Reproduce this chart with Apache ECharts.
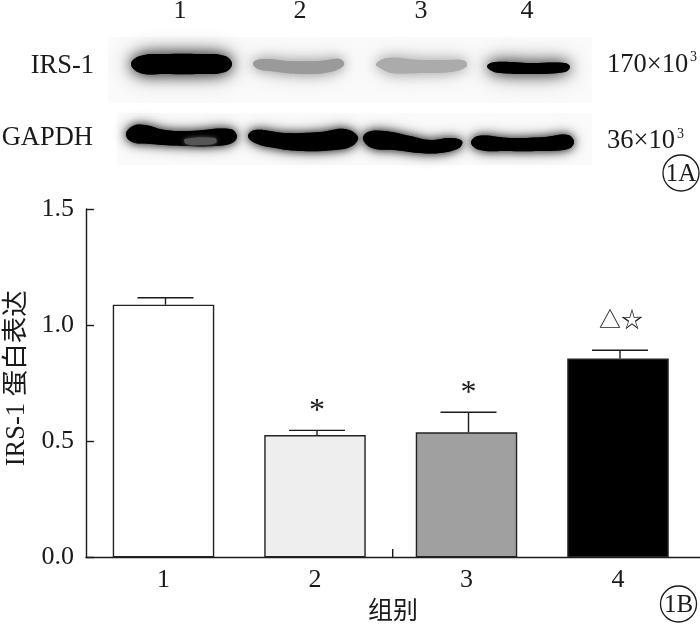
<!DOCTYPE html>
<html><head><meta charset="utf-8">
<style>html,body{margin:0;padding:0;background:#fff}#c{width:700px;height:624px}</style>
<script src="https://cdn.jsdelivr.net/npm/echarts@6/dist/echarts.min.js"></script>
</head><body><div id="c"></div>
<script>
const categories = ['1','2','3','4'];
const means = [1.088, 0.527, 0.539, 0.856];
const errorTops = [1.118, 0.547, 0.625, 0.892];
const marks = ['', '*', '*', '△☆'];
const barColors = ['#ffffff','#eeeeee','#a0a0a0','#000000'];
const laneLabels = ['1','2','3','4'];

const SERIF = '"Liberation Serif","Noto Sans CJK SC",serif';
const INK = '#1a1a1a';

// Blot artwork (photographic panel in the reference), not chart data
const panels = [[108,37,484,66],[117,113,475,52]];
const bands = [
 {c:'#000', b:14, p:[[131,64],[140,56],[165,54],[200,54],[225,56],[232,64],[225,72],[200,74],[165,74],[140,73]]},
 {c:'#9a9a9a', b:12, p:[[253,63],[262,59],[290,61],[320,61],[340,59],[344,65],[330,72],[300,74],[270,71],[258,69]]},
 {c:'#ababab', b:12, p:[[376,64],[388,58],[420,60],[450,60],[465,61],[466,67],[450,72],[420,73],[392,73],[382,69]]},
 {c:'#000', b:14, p:[[487,66],[495,62],[530,63],[565,63],[570,67],[565,72],[530,74],[500,73],[492,71]]},
 {c:'#000', b:9, p:[[126,134],[133,126],[145,125],[165,130],[190,131],[230,129],[237,136],[232,143],[215,146],[185,146],[150,144],[132,142]]},
 {c:'#000', b:9, p:[[248,136],[255,130],[285,133],[320,132],[345,129],[358,137],[352,146],[335,150],[300,151],[275,148],[255,143]]},
 {c:'#000', b:9, p:[[363,139],[368,132],[385,131],[410,136],[430,140],[450,138],[462,141],[459,148],[440,153],[420,153],[395,150],[372,148]]},
 {c:'#000', b:9, p:[[471,143],[478,136],[510,138],[545,137],[568,135],[574,142],[568,149],[540,151],[505,151],[480,150]]},
 {c:'#555', b:5, p:[[185,139],[215,138],[216,143],[200,145],[186,144]]}
];

function t(text,x,y,size,align){
  return {type:'text',x:x,y:y,z:20,style:{text:text,x:0,y:0,font:size+'px '+SERIF,fill:INK,align:align||'center',verticalAlign:'middle'}};
}
const graphic = [];
panels.forEach(p=>graphic.push({type:'rect',z:1,shape:{x:p[0],y:p[1],width:p[2],height:p[3]},style:{fill:'#fafafa'}}));
bands.forEach((b,i)=>{
  if(b.b>5) graphic.push({type:'polygon',z:2,shape:{points:b.p,smooth:0.4},style:{fill:b.c==='#000'?'#444':'#bbb',shadowBlur:b.b*1.7,shadowColor:b.c==='#000'?'rgba(0,0,0,0.45)':'rgba(120,120,120,0.4)'}});
  graphic.push({type:'polygon',z:3+i,shape:{points:b.p,smooth:0.4},style:{fill:b.c,shadowBlur:b.b,shadowColor:b.c==='#000'?'rgba(0,0,0,0.8)':b.c}});
});
[180,300,421,527].forEach((x,i)=>graphic.push(t(laneLabels[i],x,11,26)));
graphic.push(t('IRS-1',94,66,26.5,'right'));
graphic.push(t('GAPDH',93,138,26.5,'right'));
graphic.push(t('170×10',607,65,26.5,'left'));
graphic.push(t('3',690,57,14,'left'));
graphic.push(t('36×10',607,141,26.5,'left'));
graphic.push(t('3',677,134,14,'left'));
[['1A',681,173],['1B',678.5,604]].forEach(a=>{
  graphic.push({type:'circle',z:20,shape:{cx:a[1],cy:a[2],r:18},style:{fill:'none',stroke:INK,lineWidth:1.3}});
  graphic.push(t(a[0],a[1],a[2]+1,25));
});
graphic.push({type:'line',z:20,shape:{x1:392.7,y1:549,x2:392.7,y2:557.5},style:{stroke:INK,lineWidth:1.4}});

const chart = echarts.init(document.getElementById('c'),null,{renderer:'canvas'});
chart.setOption({
  animation:false,
  backgroundColor:'#fff',
  graphic:graphic,
  grid:[
    {left:87.75,top:209,width:606,height:348.5,outerBoundsMode:'none'},
    {left:86,top:209,width:614,height:348.5,outerBoundsMode:'none'}
  ],
  xAxis:[
    {type:'category',gridIndex:0,data:categories,axisLine:{show:false},axisTick:{show:false},
     axisLabel:{fontFamily:SERIF,fontSize:26,color:INK,margin:10}},
    {type:'category',gridIndex:1,data:categories,name:'组别',nameLocation:'middle',nameGap:42,
     nameTextStyle:{fontFamily:SERIF,fontSize:25,color:INK},
     axisLine:{lineStyle:{color:INK,width:1.4}},axisTick:{show:false},axisLabel:{show:false}}
  ],
  yAxis:[
    {type:'value',gridIndex:0,min:0,max:1.5,interval:0.5,offset:1.75,splitLine:{show:false},
     name:'IRS-1 蛋白表达',nameLocation:'middle',nameGap:56,
     nameTextStyle:{fontFamily:SERIF,fontSize:26.5,color:INK,padding:[0,0,0,10]},
     axisLine:{show:true,lineStyle:{color:INK,width:1.4}},
     axisTick:{show:true,inside:true,length:8,lineStyle:{color:INK,width:1.4}},
     axisLabel:{fontFamily:SERIF,fontSize:26,color:INK,margin:12,formatter:v=>v.toFixed(1),padding:[4,0,0,0]}},
    {type:'value',gridIndex:1,show:false,min:0,max:1.5}
  ],
  series:[
    {type:'bar',xAxisIndex:0,yAxisIndex:0,barWidth:101.5,z:3,
     data:means.map((v,i)=>({value:v,itemStyle:{color:barColors[i],borderColor:'#222',borderWidth:1.4}}))},
    {type:'custom',xAxisIndex:0,yAxisIndex:0,z:4,clip:false,
     data:means.map((v,i)=>[i,v,errorTops[i]]),
     encode:{x:0,y:[1,2]},
     renderItem:function(params,api){
       const i=api.value(0);
       const base=api.coord([i,api.value(1)]);
       const top=api.coord([i,api.value(2)]);
       const x=base[0]+2, cap=28;
       const st={stroke:INK,lineWidth:1.4,fill:'none'};
       const ch=[
         {type:'line',shape:{x1:x,y1:base[1],x2:x,y2:top[1]},style:st},
         {type:'line',shape:{x1:x-cap,y1:top[1],x2:x+cap,y2:top[1]},style:st}
       ];
       const m=marks[params.dataIndex];
       if(m){
         const big=m.length>1;
         ch.push({type:'text',style:{text:m,x:x+(big?1:0),y:top[1]-(big?29:19),font:(big?22:32)+'px '+SERIF,fill:INK,align:'center',verticalAlign:'middle'}});
       }
       return {type:'group',children:ch};
     }}
  ]
});
</script></body></html>
